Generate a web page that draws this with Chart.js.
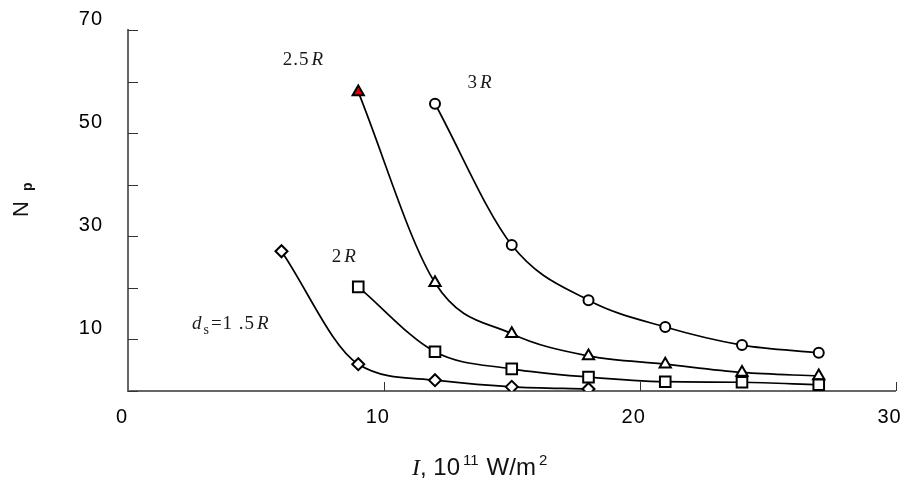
<!DOCTYPE html>
<html>
<head>
<meta charset="utf-8">
<script src="https://cdn.jsdelivr.net/npm/chart.js@4/dist/chart.umd.min.js"></script>
<style>
  body { margin: 0; background: #fff; }
  canvas { display: block; }
</style>
</head>
<body>
<canvas id="c" width="905" height="480"></canvas>
<script>
// intensity values (10^11 W/m2) and number of particles for each spacing
const xDiamond = [6, 9, 12, 15, 18];
const yDiamond = [27.1, 5.2, 2.1, 0.8, 0.4];
const xSquare = [9, 12, 15, 18, 21, 24, 27];
const ySquare = [20.2, 7.6, 4.3, 2.7, 1.8, 1.7, 1.2];
const xTriangle = [9, 12, 15, 18, 21, 24, 27];
const yTriangle = [58.0, 21.0, 11.1, 6.8, 5.2, 3.6, 2.9];
const xCircle = [12, 15, 18, 21, 24, 27];
const yCircle = [55.7, 28.3, 17.6, 12.4, 8.9, 7.4];

const xTicks = [0, 10, 20, 30];
const yTicks = [0, 10, 20, 30, 40, 50, 60, 70];

// curve labels, placed in data units
const curveLabels = [
  { parts: [['2.5', false], ['R', true]], x: 6.05, y: 63.2 },
  { parts: [['3', false], ['R', true]], x: 13.27, y: 58.8 },
  { parts: [['2', false], ['R', true]], x: 7.96, y: 25.0 },
  { parts: [['d', true], ['s', 'sub'], ['=1 .5', false], ['R', true]], x: 2.5, y: 12.0 }
];

function pts(xs, ys) {
  return xs.map((x, i) => ({ x: x, y: ys[i] }));
}

function series(xs, ys, style, radius) {
  return {
    data: pts(xs, ys),
    borderColor: '#000',
    borderWidth: 1.7,
    pointStyle: style,
    pointRadius: radius,
    pointBorderWidth: 2,
    pointBorderColor: '#000',
    pointBackgroundColor: '#fff',
    cubicInterpolationMode: 'monotone',
    fill: false
  };
}

const tri = series(xTriangle, yTriangle, 'triangle', 6.5);
tri.pointBackgroundColor = xTriangle.map((x, i) => i === 0 ? '#e00000' : '#fff');

const extras = {
  id: 'extras',
  beforeDraw(chart) {
    // slightly wider digit spacing for the tick labels
    chart.ctx.letterSpacing = '1px';
  },
  afterDraw(chart) {
    const ctx = chart.ctx;
    const xs = chart.scales.x, ys = chart.scales.y;
    const area = chart.chartArea;
    ctx.save();
    // inner tick marks
    ctx.strokeStyle = '#333';
    ctx.lineWidth = 1;
    yTicks.forEach(v => {
      const p = Math.round(ys.getPixelForValue(v)) + 0.5;
      ctx.beginPath();
      ctx.moveTo(area.left, p);
      ctx.lineTo(area.left + 10, p);
      ctx.stroke();
    });
    xTicks.slice(1).forEach(v => {
      const p = Math.round(xs.getPixelForValue(v)) + 0.5;
      ctx.beginPath();
      ctx.moveTo(p, area.bottom);
      ctx.lineTo(p, area.bottom - 9);
      ctx.stroke();
    });

    // curve labels
    ctx.fillStyle = '#1a1a1a';
    ctx.textBaseline = 'alphabetic';
    ctx.letterSpacing = '1px';
    curveLabels.forEach(l => {
      let px = xs.getPixelForValue(l.x);
      const py = ys.getPixelForValue(l.y);
      l.parts.forEach(([t, st]) => {
        let dy = 0;
        if (st === 'sub') {
          ctx.font = '14px "Liberation Serif"';
          dy = 5;
        } else {
          ctx.font = (st ? 'italic ' : '') + '19px "Liberation Serif"';
        }
        ctx.fillText(t, px, py + dy);
        px += ctx.measureText(t).width + (st === false ? 2 : 1);
      });
    });
    ctx.letterSpacing = '0px';

    // x axis title: I, 10^11 W/m^2
    ctx.fillStyle = '#111';
    let tx = 412, ty = 475;
    ctx.font = 'italic 24px "Liberation Serif"';
    ctx.fillText('I', tx, ty);
    tx += ctx.measureText('I').width;
    ctx.font = '24px "Liberation Sans"';
    ctx.fillText(', 10', tx, ty);
    tx += ctx.measureText(', 10').width + 3;
    ctx.font = '15px "Liberation Sans"';
    ctx.fillText('11', tx, ty - 10);
    tx += ctx.measureText('11').width + 8;
    ctx.font = '24px "Liberation Sans"';
    ctx.fillText('W/m', tx, ty);
    tx += ctx.measureText('W/m').width + 3;
    ctx.font = '15px "Liberation Sans"';
    ctx.fillText('2', tx, ty - 10);

    // y axis title: N_p, rotated
    ctx.translate(28, 217);
    ctx.rotate(-Math.PI / 2);
    ctx.font = '22px "Liberation Sans"';
    ctx.fillText('N', 0, 0);
    const nw = ctx.measureText('N').width;
    ctx.font = 'bold 14px "Liberation Sans"';
    ctx.fillText('p', nw + 10, 4);
    ctx.restore();
  }
};

new Chart(document.getElementById('c'), {
  type: 'line',
  data: {
    datasets: [
      series(xDiamond, yDiamond, 'rectRot', 6),
      series(xSquare, ySquare, 'rect', 7.5),
      tri,
      series(xCircle, yCircle, 'circle', 5)
    ]
  },
  options: {
    responsive: false,
    animation: false,
    layout: { padding: { left: 0, top: 30, right: 8, bottom: 0 } },
    plugins: { legend: { display: false }, tooltip: { enabled: false } },
    scales: {
      x: {
        type: 'linear',
        min: 0,
        max: 30,
        afterFit(s) { s.height = 89; s.paddingLeft = 0; s.paddingRight = 0; },
        afterBuildTicks(s) { s.ticks = xTicks.map(v => ({ value: v })); },
        grid: { display: false, drawTicks: false },
        border: { color: '#666', width: 2 },
        ticks: {
          padding: 14,
          labelOffset: -6,
          color: '#000',
          font: { family: 'Liberation Sans', size: 20 }
        }
      },
      y: {
        min: 0,
        max: 70,
        afterFit(s) { s.width = 128; s.paddingTop = 0; s.paddingBottom = 0; },
        afterBuildTicks(s) { s.ticks = yTicks.map(v => ({ value: v })); },
        grid: { display: false, drawTicks: false },
        border: { color: '#666', width: 2 },
        ticks: {
          padding: 25,
          labelOffset: -11,
          color: '#000',
          font: { family: 'Liberation Sans', size: 20 },
          callback: v => (v % 20 === 10 ? String(v) : '')
        }
      }
    }
  },
  plugins: [extras]
});
</script>
</body>
</html>
